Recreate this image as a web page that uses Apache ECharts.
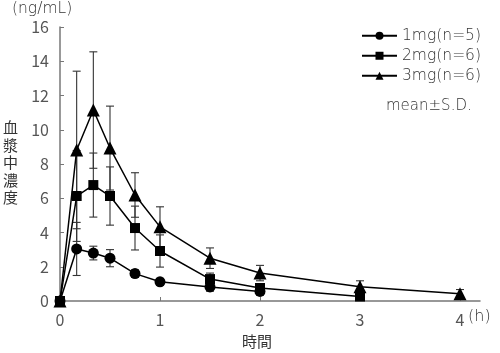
<!DOCTYPE html>
<html><head><meta charset="utf-8">
<script src="https://cdn.jsdelivr.net/npm/echarts@6/dist/echarts.min.js"></script>
<style>html,body{margin:0;padding:0;background:#fff}#c{width:500px;height:353px}</style>
</head><body><div id="c"></div>
<script>
const times = [0, 1/6, 1/3, 0.5, 0.75, 1, 1.5, 2, 3, 4];
const seriesNames = ['1mg(n=5)', '2mg(n=6)', '3mg(n=6)'];
const mean1mg = [0, 3.04, 2.8, 2.5, 1.6, 1.12, 0.82, 0.56, null, null];
const sd1mg   = [0, 1.55, 0.4, 0.5, 0.22, 0.2, 0.25, 0.22, null, null];
const mean2mg = [0, 6.13, 6.77, 6.13, 4.26, 2.92, 1.28, 0.76, 0.26, null];
const sd2mg   = [0, 2.65, 1.87, 1.7, 1.28, 0.94, 0.35, 0.25, 0.1, null];
const mean3mg = [0, 8.82, 11.15, 8.93, 6.19, 4.33, 2.5, 1.63, 0.83, 0.42];
const sd3mg   = [0, 4.6, 3.4, 2.45, 1.3, 1.17, 0.6, 0.45, 0.35, 0.25];
const xTicks = [0, 1, 2, 3, 4];
const yTicks = [0, 2, 4, 6, 8, 10, 12, 14, 16];

const FONT = '"Noto Sans CJK JP", "Noto Sans", sans-serif';
const LFONT = '"DejaVu Sans", "Noto Sans CJK JP", sans-serif';
const TXT = '#333';

function pts(means) {
  const out = [];
  means.forEach((m, i) => { if (m !== null) out.push([times[i], m]); });
  return out;
}
function errs(means, sds) {
  const out = [];
  means.forEach((m, i) => { if (m !== null && sds[i] > 0) out.push([times[i], m, sds[i]]); });
  return out;
}
function errorSeries(means, sds) {
  return {
    type: 'custom',
    silent: true,
    z: 1,
    data: errs(means, sds),
    encode: { x: 0, y: 1 },
    renderItem: function (params, api) {
      const x = api.value(0), m = api.value(1), s = api.value(2);
      const top = api.coord([x, m + s]);
      const bot = api.coord([x, Math.max(0, m - s)]);
      const hw = 4;
      const style = { stroke: '#333', lineWidth: 1.1 };
      return {
        type: 'group',
        children: [
          { type: 'line', shape: { x1: top[0], y1: top[1], x2: bot[0], y2: bot[1] }, style },
          { type: 'line', shape: { x1: top[0] - hw, y1: top[1], x2: top[0] + hw, y2: top[1] }, style },
          { type: 'line', shape: { x1: bot[0] - hw, y1: bot[1], x2: bot[0] + hw, y2: bot[1] }, style }
        ]
      };
    }
  };
}
function lineSeries(name, means, symbol, size) {
  return {
    name: name, type: 'line', z: 3,
    data: pts(means),
    symbol: symbol, symbolSize: size,
    lineStyle: { color: '#000', width: 1.5 },
    itemStyle: { color: '#000' },
    connectNulls: false
  };
}

const chart = echarts.init(document.getElementById('c'), null, { renderer: 'canvas' });
chart.setOption({
  animation: false,
  backgroundColor: '#fff',
  textStyle: { fontFamily: FONT },
  grid: { left: 60, right: 20, top: 27, bottom: 52, containLabel: false },
  legend: {
    orient: 'vertical', left: 356, top: 23,
    itemWidth: 35, itemHeight: 10, itemGap: 4.5,
    data: seriesNames,
    textStyle: { fontFamily: LFONT, fontWeight: 200, fontSize: 15.5, color: TXT, lineHeight: 14 },
    inactiveColor: '#000'
  },
  xAxis: {
    type: 'value', min: 0, max: 4.2,
    axisLine: { lineStyle: { color: '#777', width: 1.5 } },
    axisTick: { inside: true, length: 4, lineStyle: { color: '#777' }, customValues: xTicks },
    axisLabel: { customValues: xTicks, fontSize: 16, color: '#555', margin: 11, fontFamily: FONT },
    splitLine: { show: false }
  },
  yAxis: {
    type: 'value', min: 0, max: 16, interval: 2,
    axisLine: { show: true, lineStyle: { color: '#777', width: 1.5 } },
    axisTick: { show: true, inside: true, length: 4, lineStyle: { color: '#777' } },
    axisLabel: { fontSize: 16, color: '#555', margin: 11, fontFamily: FONT },
    splitLine: { show: false }
  },
  graphic: [
    { type: 'text', left: 12, top: 1, style: { text: '(ng/mL)', font: '200 15.5px ' + LFONT, fill: TXT } },
    { type: 'text', left: 3, top: 119, style: { text: '血\n漿\n中\n濃\n度', font: '15px ' + FONT, fill: TXT, lineHeight: 17.5 } },
    { type: 'text', left: 242, top: 334, style: { text: '時間', font: '15px ' + FONT, fill: TXT } },
    { type: 'text', left: 468, top: 309, style: { text: '(h)', font: '200 16px ' + LFONT, fill: TXT } },
    { type: 'text', left: 386, top: 99, style: { text: 'mean±S.D.', font: '200 15px ' + LFONT, fill: TXT } }
  ],
  series: [
    errorSeries(mean1mg, sd1mg),
    errorSeries(mean2mg, sd2mg),
    errorSeries(mean3mg, sd3mg),
    lineSeries(seriesNames[0], mean1mg, 'circle', 11),
    lineSeries(seriesNames[1], mean2mg, 'rect', 10),
    lineSeries(seriesNames[2], mean3mg, 'triangle', 13)
  ]
});
</script></body></html>
